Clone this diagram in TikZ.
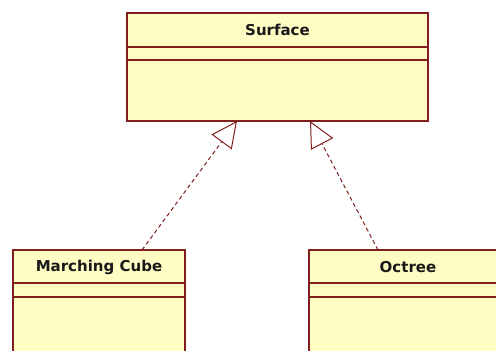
\documentclass[tikz,border=0pt]{standalone}
\usepackage{fontspec}
\setmainfont{DejaVu Sans}
\usetikzlibrary{arrows.meta}
\definecolor{umlfill}{RGB}{255,252,196}
\definecolor{umlline}{RGB}{128,30,30}
\definecolor{umltext}{RGB}{25,25,25}
\tikzset{
  classbox/.style={draw=umlline, fill=umlfill, line width=1.2pt},
  sepline/.style={draw=umlline, line width=1.2pt},
  classname/.style={font=\bfseries\fontsize{15}{17}\selectfont, text=umltext},
  realize/.style={draw=umlline, line width=1pt, dash pattern=on 4pt off 3pt,
    -{Triangle[open, length=26pt, width=25pt, line width=1pt, fill=white]}},
}
\begin{document}
\begin{tikzpicture}[x=1pt, y=-1pt]
  \useasboundingbox (0,0) rectangle (496,351);
  % Surface
  \path[classbox] (127,13) rectangle (428,121);
  \draw[sepline] (127,47) -- (428,47);
  \draw[sepline] (127,60) -- (428,60);
  \node[classname] (surf) at (277.5,30) {Surface};
  \coordinate (surfL) at (237,121);
  \coordinate (surfR) at (310,121);
  % Marching Cube
  \path[classbox] (13,250) rectangle (185,360);
  \draw[sepline] (13,283) -- (185,283);
  \draw[sepline] (13,297) -- (185,297);
  \node[classname] (mc) at (99,267) {Marching Cube};
  \coordinate (mcT) at (142,250);
  % Octree
  \path[classbox] (309,250) rectangle (505,360);
  \draw[sepline] (309,283) -- (505,283);
  \draw[sepline] (309,297) -- (505,297);
  \node[classname] (oct) at (408,267) {Octree};
  \coordinate (octT) at (378,250);
  % realization connectors
  \draw[realize] (mcT) -- (surfL);
  \draw[realize] (octT) -- (surfR);
\end{tikzpicture}
\end{document}
